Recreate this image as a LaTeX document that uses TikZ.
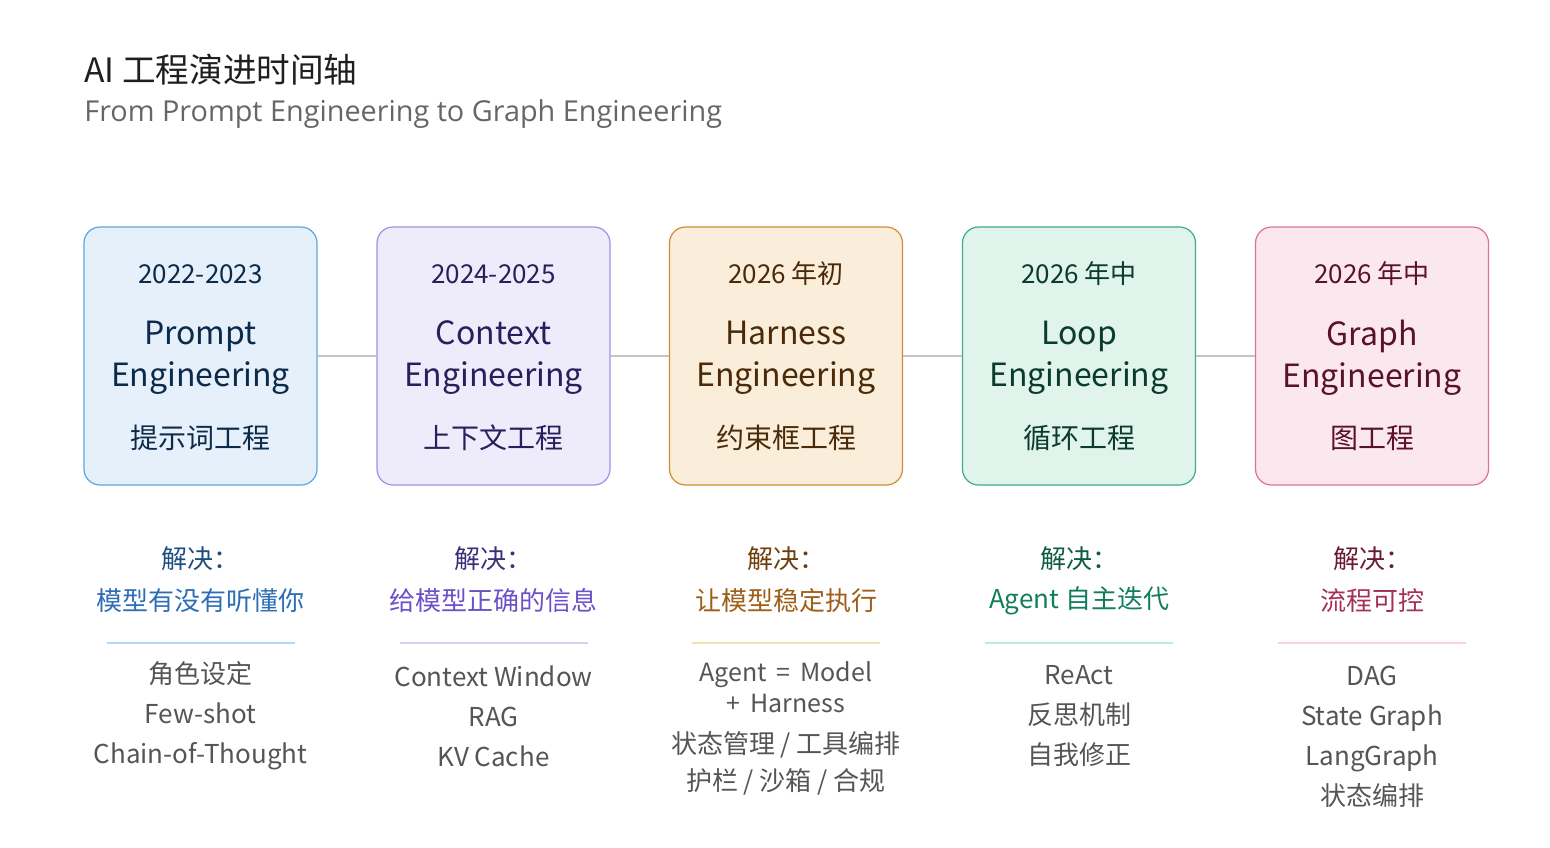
\documentclass[tikz,border=0pt]{standalone}
\usepackage{fontspec}
\setmainfont{Noto Sans CJK SC}
\newfontfamily\latinfont{Open Sans}
\usetikzlibrary{positioning}

\definecolor{titlec}{HTML}{1F1F1F}
\definecolor{subc}{HTML}{666666}
\definecolor{linegray}{HTML}{C4C4C4}
\definecolor{itemgray}{HTML}{555555}
% prompt
\definecolor{pfill}{HTML}{E6F0FB}\definecolor{pborder}{HTML}{5FA5E3}
\definecolor{ptext}{HTML}{0C2A4A}\definecolor{psolve}{HTML}{1E4E7E}
\definecolor{paim}{HTML}{2D6DB6}\definecolor{pdiv}{HTML}{B6D6F6}
% context
\definecolor{cfill}{HTML}{EEEBFB}\definecolor{cborder}{HTML}{A090E6}
\definecolor{ctext}{HTML}{2A1F5C}\definecolor{csolve}{HTML}{3B2F7A}
\definecolor{caim}{HTML}{6B50C8}\definecolor{cdiv}{HTML}{D6CEF5}
% harness
\definecolor{hfill}{HTML}{FAEDDA}\definecolor{hborder}{HTML}{D28C34}
\definecolor{htext}{HTML}{4A2A08}\definecolor{hsolve}{HTML}{6B3E0A}
\definecolor{haim}{HTML}{9E5E18}\definecolor{hdiv}{HTML}{F8DEB2}
% loop
\definecolor{lfill}{HTML}{E0F4EC}\definecolor{lborder}{HTML}{3FAC87}
\definecolor{ltext}{HTML}{0A3B2E}\definecolor{lsolve}{HTML}{0F5A44}
\definecolor{laim}{HTML}{127E5E}\definecolor{ldiv}{HTML}{BFEBDC}
% graph
\definecolor{gfill}{HTML}{FBE8EE}\definecolor{gborder}{HTML}{DB7392}
\definecolor{gtext}{HTML}{5A1228}\definecolor{gsolve}{HTML}{6B1A35}
\definecolor{gaim}{HTML}{A3305A}\definecolor{gdiv}{HTML}{F8D3DF}

\begin{document}
\begin{tikzpicture}[x=0.5pt,y=-0.5pt,
  stagebox/.style={rounded corners=8pt,line width=0.6pt,minimum width=116.5pt,minimum height=129pt,inner sep=0pt},
  yeartxt/.style={font=\fontsize{13}{16}\selectfont},
  nametxt/.style={font=\fontsize{16}{21}\selectfont,align=center},
  cntxt/.style={font=\fontsize{14}{17}\selectfont},
  solvetxt/.style={font=\fontsize{13}{16}\selectfont},
  itemtxt/.style={font=\fontsize{13}{20}\selectfont,text=itemgray,align=center},
  divline/.style={line width=1pt},
  timeline/.style={draw=linegray,line width=0.6pt}]
\useasboundingbox (0,0) rectangle (1550,847);

\node[anchor=west,inner sep=0pt,text=titlec,font=\fontsize{16.8}{19}\selectfont] (title) at (84,70) {AI 工程演进时间轴};
\node[anchor=west,inner sep=0pt,text=subc,font=\latinfont\fontsize{14.4}{17}\selectfont] (subtitle) at (84,114) {From Prompt Engineering to Graph Engineering};

\begin{scope}[shift={(200.5,0)}]
    \node[stagebox,draw=pborder,fill=pfill] (p-box) at (0,356) {};
    \node[yeartxt,text=ptext] (p-year) at (0,274) {2022-2023};
    \node[nametxt,text=ptext] (p-name) at (0,358) {Prompt\\Engineering};
    \node[cntxt,text=ptext] (p-cn) at (0,438) {提示词工程};
    \node[solvetxt,text=psolve] (p-solve) at (0,559) {解决：};
    \node[solvetxt,text=paim] (p-aim) at (0,601) {模型有没有听懂你};
    \draw[divline,pdiv] (-94,643) -- (94,643);
    \node[itemtxt] (p-items) at (0,716) {角色设定\\Few-shot\\Chain-of-Thought};
\end{scope}

\begin{scope}[shift={(493.5,0)}]
    \node[stagebox,draw=cborder,fill=cfill] (c-box) at (0,356) {};
    \node[yeartxt,text=ctext] (c-year) at (0,274) {2024-2025};
    \node[nametxt,text=ctext] (c-name) at (0,358) {Context\\Engineering};
    \node[cntxt,text=ctext] (c-cn) at (0,438) {上下文工程};
    \node[solvetxt,text=csolve] (c-solve) at (0,559) {解决：};
    \node[solvetxt,text=caim] (c-aim) at (0,601) {给模型正确的信息};
    \draw[divline,cdiv] (-94,643) -- (94,643);
    \node[itemtxt] (c-items) at (0,716) {Context Window\\RAG\\KV Cache};
\end{scope}

\begin{scope}[shift={(786,0)}]
    \node[stagebox,draw=hborder,fill=hfill] (h-box) at (0,356) {};
    \node[yeartxt,text=htext] (h-year) at (0,274) {2026 年初};
    \node[nametxt,text=htext] (h-name) at (0,358) {Harness\\Engineering};
    \node[cntxt,text=htext] (h-cn) at (0,438) {约束框工程};
    \node[solvetxt,text=hsolve] (h-solve) at (0,559) {解决：};
    \node[solvetxt,text=haim] (h-aim) at (0,601) {让模型稳定执行};
    \draw[divline,hdiv] (-94,643) -- (94,643);
    \node[itemtxt,font=\fontsize{12.5}{15.5}\selectfont] (h-agent) at (0,687) {Agent \,=\, Model\\+\, Harness};
    \node[itemtxt,font=\fontsize{13}{18.5}\selectfont] (h-items) at (0,763) {状态管理 / 工具编排\\护栏 / 沙箱 / 合规};
\end{scope}

\begin{scope}[shift={(1079,0)}]
    \node[stagebox,draw=lborder,fill=lfill] (l-box) at (0,356) {};
    \node[yeartxt,text=ltext] (l-year) at (0,274) {2026 年中};
    \node[nametxt,text=ltext] (l-name) at (0,358) {Loop\\Engineering};
    \node[cntxt,text=ltext] (l-cn) at (0,438) {循环工程};
    \node[solvetxt,text=lsolve] (l-solve) at (0,559) {解决：};
    \node[solvetxt,text=laim] (l-aim) at (0,601) {Agent 自主迭代};
    \draw[divline,ldiv] (-94,643) -- (94,643);
    \node[itemtxt] (l-items) at (0,716) {ReAct\\反思机制\\自我修正};
\end{scope}

\begin{scope}[shift={(1372,0)}]
    \node[stagebox,draw=gborder,fill=gfill] (g-box) at (0,356) {};
    \node[yeartxt,text=gtext] (g-year) at (0,274) {2026 年中};
    \node[nametxt,text=gtext] (g-name) at (0,358) {Graph\\Engineering};
    \node[cntxt,text=gtext] (g-cn) at (0,438) {图工程};
    \node[solvetxt,text=gsolve] (g-solve) at (0,559) {解决：};
    \node[solvetxt,text=gaim] (g-aim) at (0,601) {流程可控};
    \draw[divline,gdiv] (-94,643) -- (94,643);
    \node[itemtxt] (g-items) at (0,737) {DAG\\State Graph\\LangGraph\\状态编排};
\end{scope}

% timeline
\draw[timeline] (p-box.east) -- (c-box.west);
\draw[timeline] (c-box.east) -- (h-box.west);
\draw[timeline] (h-box.east) -- (l-box.west);
\draw[timeline] (l-box.east) -- (g-box.west);
\end{tikzpicture}
\end{document}
